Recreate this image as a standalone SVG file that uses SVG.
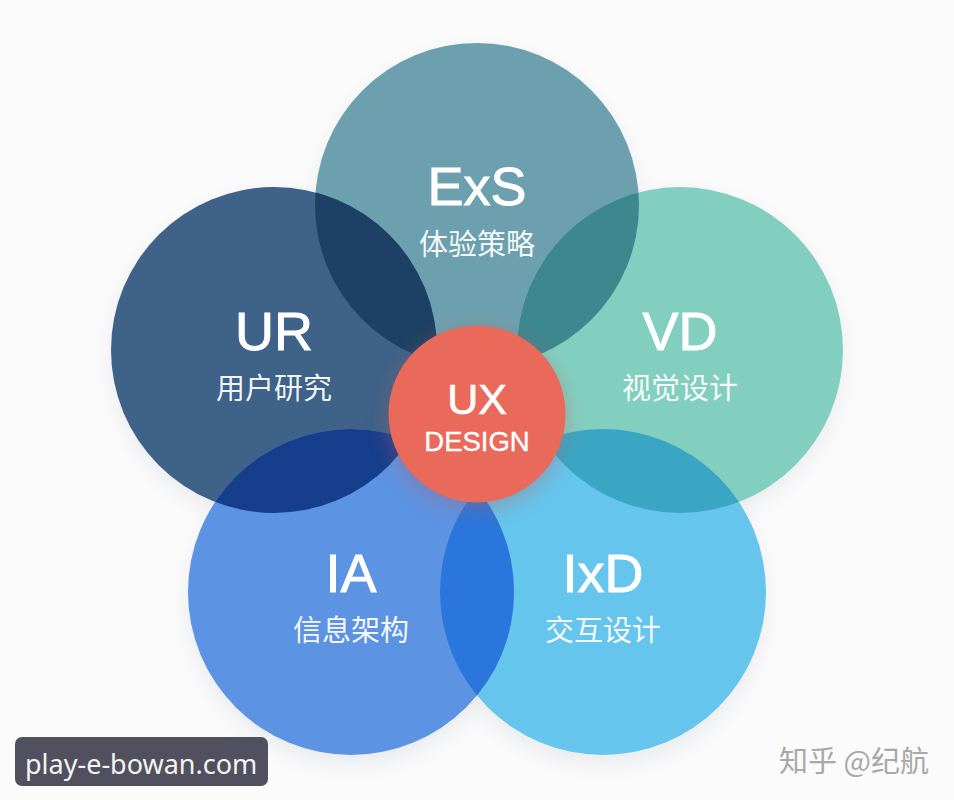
<svg xmlns="http://www.w3.org/2000/svg" width="954" height="800" viewBox="0 0 954 800">
<defs>
<filter id="s" x="-30%" y="-30%" width="160%" height="160%"><feGaussianBlur stdDeviation="12"/></filter>
<filter id="c" x="-40%" y="-40%" width="180%" height="180%"><feGaussianBlur stdDeviation="10"/></filter>
<clipPath id="cExS"><circle cx="477" cy="205" r="162"/></clipPath>
<clipPath id="cIA"><circle cx="351" cy="592" r="163"/></clipPath>
<clipPath id="cIxD"><circle cx="603" cy="592" r="163"/></clipPath>
</defs>
<style>
.big{font-family:"Liberation Sans","Noto Sans",sans-serif;font-size:54px;fill:#fff;stroke:#fff;stroke-width:.9px;text-anchor:middle}
.cn{font-family:"Noto Sans CJK SC",sans-serif;font-size:29px;fill:#fff;fill-opacity:.95;text-anchor:middle}
.ux{font-family:"Liberation Sans",sans-serif;fill:#fff;stroke:#fff;text-anchor:middle}
</style>
<rect width="954" height="800" fill="#fbfbfc"/>
<g id="shadows" filter="url(#s)" fill="#8a9298" opacity=".18">
<circle cx="477" cy="213" r="160"/><circle cx="680" cy="358" r="161"/><circle cx="603" cy="602" r="161"/><circle cx="351" cy="602" r="161"/><circle cx="274" cy="358" r="161"/>
</g>
<g id="node-exs"><circle cx="477" cy="205" r="162" fill="#6da0ae"/><text class="big" x="477" y="205">ExS</text><text class="cn" x="477" y="255">体验策略</text></g>
<g id="node-vd"><circle cx="680" cy="350" r="163" fill="#82cfc0"/><text class="big" x="680" y="350">VD</text><text class="cn" x="680" y="399">视觉设计</text></g>
<g id="node-ur"><circle cx="274" cy="350" r="163" fill="#3e6288"/><text class="big" x="274" y="350">UR</text><text class="cn" x="274" y="399">用户研究</text></g>
<g id="node-ixd"><circle cx="603" cy="592" r="163" fill="#65c5ec"/><text class="big" x="603" y="592">IxD</text><text class="cn" x="603" y="641">交互设计</text></g>
<g id="node-ia"><circle cx="351" cy="592" r="163" fill="#5c93e3"/><text class="big" x="351" y="592">IA</text><text class="cn" x="351" y="641">信息架构</text></g>
<g id="overlaps">
<g clip-path="url(#cExS)"><circle cx="274" cy="350" r="163" fill="#1d4164"/><circle cx="680" cy="350" r="163" fill="#3d878e"/></g>
<g clip-path="url(#cIA)"><circle cx="274" cy="350" r="163" fill="#163e8c"/><circle cx="603" cy="592" r="163" fill="#2a76dc"/></g>
<g clip-path="url(#cIxD)"><circle cx="680" cy="350" r="163" fill="#3aa6c4"/></g>
</g>
<g id="node-ux">
<circle cx="477" cy="420" r="90" fill="#b8605f" opacity=".35" filter="url(#c)"/>
<circle cx="477" cy="414" r="88.5" fill="#e9695a"/>
<text class="ux" x="477" y="414" font-size="43" stroke-width=".7">UX</text>
<text class="ux" x="477" y="451" font-size="27.5" stroke-width=".4">DESIGN</text>
</g>
<g id="watermark">
<rect x="15" y="737" width="253" height="49" rx="7" fill="#51505f"/>
<text x="25" y="774" font-family="'Noto Sans',sans-serif" font-size="27" fill="#f2f4f4">play-e-bowan.com</text>
<text x="779" y="772" font-family="'Noto Sans CJK SC',sans-serif" font-size="29" fill="#a8a8a8">知乎 @纪航</text>
</g>
</svg>
